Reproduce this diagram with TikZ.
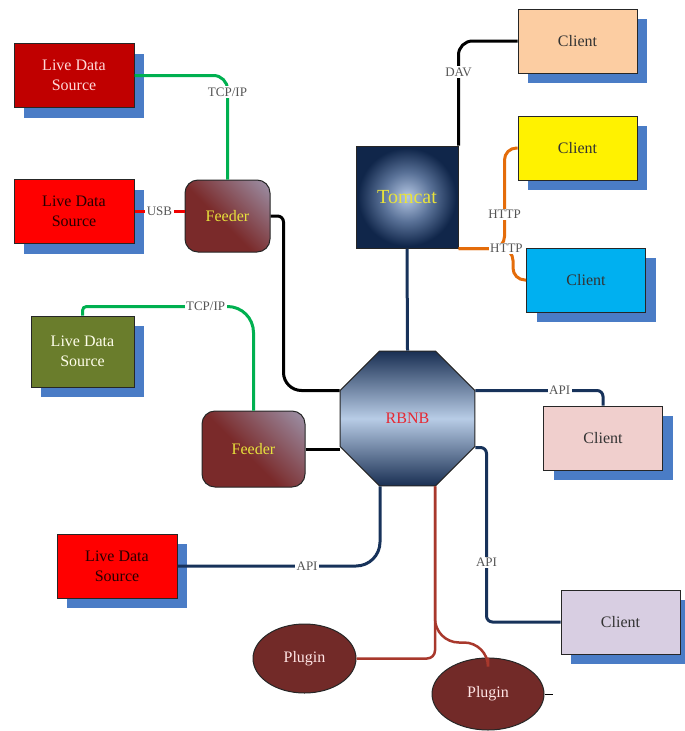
\documentclass[tikz,border=0pt]{standalone}
\usepackage{fontspec}
\setmainfont{Liberation Serif}
\usepackage{xcolor}
\usepackage{tikz}
\usetikzlibrary{shapes,shapes.geometric,shadows,calc}
\definecolor{shadowblue}{HTML}{4A7CC6}
\definecolor{tcLight}{HTML}{B6C8E4}
\definecolor{tcMid}{HTML}{5A7298}
\definecolor{tcDark}{HTML}{10264A}
\definecolor{rbLight}{HTML}{B8CCE6}
\definecolor{rbDark}{HTML}{13294D}
\definecolor{fdBrown}{HTML}{7A2A2A}
\definecolor{fdLight}{HTML}{AAB9D8}
\definecolor{hlYellow}{HTML}{E8E23C}
\definecolor{lblText}{HTML}{555555}
\definecolor{wGreen}{HTML}{00B050}
\definecolor{wRed}{HTML}{F00000}
\definecolor{wNavy}{HTML}{17325A}
\definecolor{wOrange}{HTML}{E46C0A}
\definecolor{wPlug}{HTML}{A8382C}
\definecolor{plugFill}{HTML}{722A28}
\pgfdeclareradialshading{tomcatglow}{\pgfpoint{0bp}{0bp}}{color(0bp)=(tcLight); color(12bp)=(tcMid); color(24bp)=(tcDark); color(50bp)=(tcDark)}
\pgfdeclareverticalshading{rbnbshade}{100bp}{color(0bp)=(rbDark); color(24bp)=(rbDark); color(50bp)=(rbLight); color(76bp)=(rbDark); color(100bp)=(rbDark)}
\pgfdeclarehorizontalshading{feedshade}{100bp}{color(0bp)=(fdBrown); color(45bp)=(fdBrown); color(100bp)=(fdLight)}
\tikzset{
  src_box/.style={rectangle, draw=black!85, line width=1pt, inner sep=0pt, minimum width=120pt, minimum height=64pt, align=center, font=\fontsize{16}{20}\selectfont, general shadow={fill=shadowblue, shadow xshift=10pt, shadow yshift=-10pt}},
  cli_box/.style={src_box, minimum width=119pt, text=black!80},
  feed_n/.style={rectangle, rounded corners=13pt, draw=black!85, line width=1pt, inner sep=0pt, shading=feedshade, shading angle=45, text=hlYellow, font=\fontsize{16}{20}\selectfont},
  plug_n/.style={ellipse, draw=black!85, line width=1pt, inner sep=0pt, fill=plugFill, text=red!10, font=\fontsize{16}{20}\selectfont},
  lbl/.style={sharp corners, fill=white, inner sep=1.5pt, text=lblText, font=\fontsize{13}{15}\selectfont},
  wire/.style={line width=3pt, rounded corners=14pt}
}
\begin{document}
\begin{tikzpicture}[x=1pt, y=-1pt]
\useasboundingbox (0,0) rectangle (685,731);

\node[src_box, fill={rgb,255:red,192;green,0;blue,0}, text=red!15] (lds1) at (74,75.5) {Live Data\\Source};
\node[src_box, fill=red, text=black!85!red] (lds2) at (74,211.5) {Live Data\\Source};
\node[src_box, fill={rgb,255:red,106;green,125;blue,44}, text=yellow!8, minimum width=103pt, minimum height=71pt] (lds3) at (82.5,351.5) {Live Data\\Source};
\node[src_box, fill=red, text=black!85!red] (lds4) at (117,566) {Live Data\\Source};

\node[feed_n, minimum width=85pt, minimum height=72pt] (feeder1) at (227.5,216) {Feeder};
\node[feed_n, minimum width=103pt, minimum height=76pt] (feeder2) at (253.5,449) {Feeder};

\node[rectangle, draw=black!85, line width=1pt, inner sep=0pt, minimum size=102pt, shading=tomcatglow, text=hlYellow, font=\fontsize{20}{24}\selectfont] (tomcat) at (407,197) {Tomcat};
\node[regular polygon, regular polygon sides=8, minimum size=146pt, inner sep=0pt, draw=black!85, line width=1pt, shading=rbnbshade, text={rgb,255:red,230;green,40;blue,50}, font=\fontsize{16}{20}\selectfont] (rbnb) at (407.5,418.5) {RBNB};

\node[cli_box, fill={rgb,255:red,252;green,205;blue,162}] (client1) at (577.5,41) {Client};
\node[cli_box, fill=yellow] (client2) at (577.5,148) {Client};
\node[cli_box, fill={rgb,255:red,0;green,176;blue,240}] (client3) at (586,280) {Client};
\node[cli_box, fill={rgb,255:red,240;green,207;blue,205}] (client4) at (603,438) {Client};
\node[cli_box, fill={rgb,255:red,216;green,206;blue,226}] (client5) at (620.5,622) {Client};

\node[plug_n, minimum width=103pt, minimum height=69pt] (plugin1) at (304.5,658.5) {Plugin};
\node[plug_n, minimum width=112pt, minimum height=72pt] (plugin2) at (488,694) {Plugin};

\draw[wire, wGreen] (lds1.east) -| node[lbl, pos=0.58]{TCP/IP} (feeder1.north);
\draw[wire, wRed] (lds2.east) -- node[lbl]{USB} (lds2.east -| feeder1.west);
\draw[wire, black, rounded corners=6pt] (feeder1.east) -- ++(13,0) [rounded corners=18pt] |- ([yshift=28pt]rbnb.west);
\draw[wire, black] (feeder2.east) -- (feeder2.east -| rbnb.west);
\draw[wire, wGreen, rounded corners=4pt] (lds3.north) -- ++(0,-9) [rounded corners=26pt] -| node[lbl, pos=0.36]{TCP/IP} (feeder2.north);

\draw[wire, black] (tomcat.north east) |- node[lbl, pos=0.35]{DAV} (client1.west);
\draw[wire, wOrange, rounded corners=12pt] (tomcat.south east) -| node[lbl, pos=0.67]{HTTP} ([xshift=-13pt]client2.west) -- (client2.west);
\draw[wire, wOrange, rounded corners=12pt] (tomcat.south east) -| node[lbl, pos=0.44]{HTTP} ([xshift=-13pt]client3.west) -- (client3.west);
\draw[wire, wNavy] (tomcat.south) -- (rbnb.north);

\draw[wire, wNavy, rounded corners=6pt] ([yshift=28pt]rbnb.east) -| node[lbl, pos=0.33]{API} (client4.north);
\draw[wire, wNavy, rounded corners=6pt] ([yshift=-29pt]rbnb.east) -| node[lbl, pos=0.83]{API} ([xshift=-74pt]client5.west) [rounded corners=24pt] -- (client5.west);
\draw[wire, wNavy, rounded corners=24pt] ([xshift=-27.5pt]rbnb.south) |- node[lbl, pos=0.68]{API} (lds4.east);

\draw[wire, wPlug, line width=2.5pt, rounded corners=8pt] ([xshift=27.5pt]rbnb.south) |- (plugin1.east);
\draw[wire, wPlug, line width=2.5pt, rounded corners=24pt] ([xshift=27.5pt]rbnb.south) |- ([yshift=15pt]plugin2.north) [rounded corners=6pt] -- (plugin2.north);
\draw[line width=1pt] (plugin2.east) -- ++(8,0);
\end{tikzpicture}
\end{document}
